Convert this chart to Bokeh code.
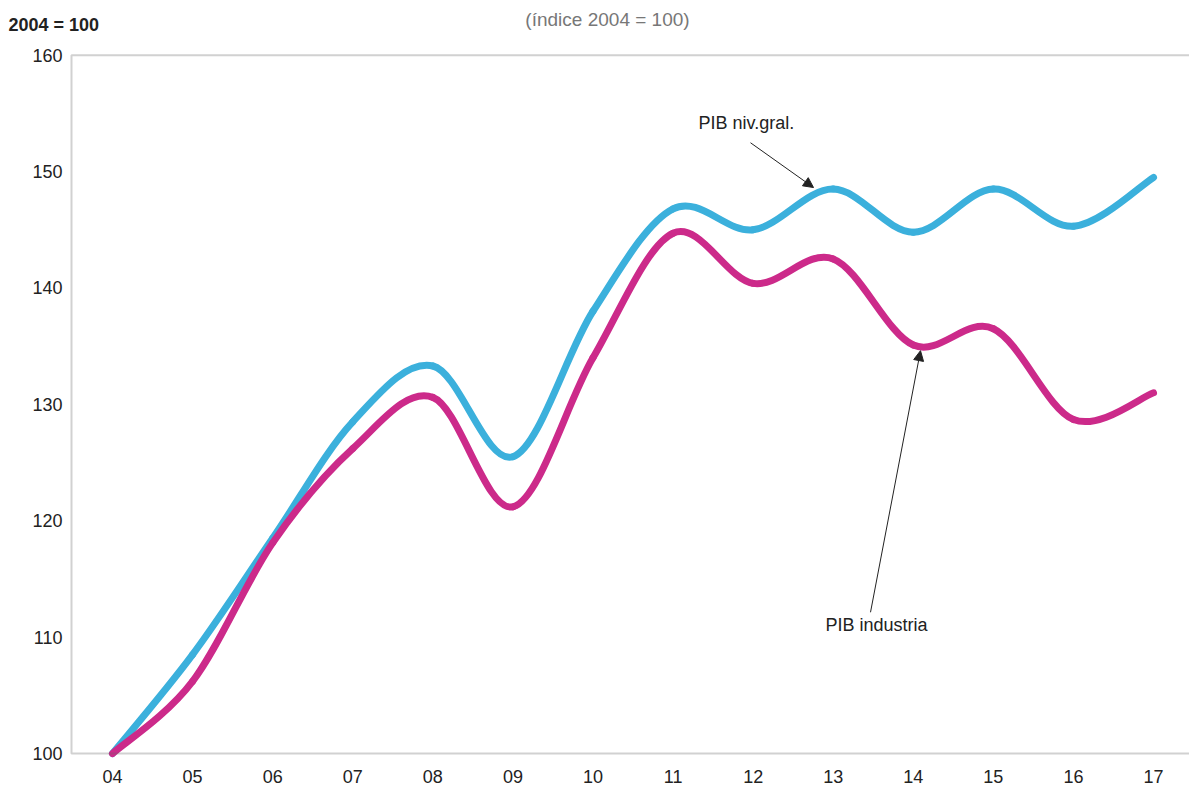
import numpy as np
from bokeh.plotting import figure
from bokeh.models import (ColumnDataSource, Range1d, FixedTicker, BoxAnnotation, Label,
                          Arrow, NormalHead)
from bokeh.core.properties import value
from bokeh.embed import file_html
from bokeh.resources import INLINE

# Annual index values (2004 = 100)
years = [4, 5, 6, 7, 8, 9, 10, 11, 12, 13, 14, 15, 16, 17]
year_labels = ["04", "05", "06", "07", "08", "09", "10", "11", "12", "13", "14", "15", "16", "17"]
pib_general = [100.0, 108.5, 118.5, 128.5, 133.3, 125.5, 138.0, 146.8, 145.0, 148.5, 144.8, 148.5, 145.3, 149.5]
pib_industria = [100.0, 106.2, 118.1, 126.2, 130.6, 121.2, 134.0, 144.7, 140.4, 142.5, 135.1, 136.5, 128.7, 131.0]
y_ticks = [100, 110, 120, 130, 140, 150, 160]
y_tick_labels = ["100", "110", "120", "130", "140", "150", "160"]

FONT = "Liberation Sans"
BLUE = "#3bb0dc"
MAGENTA = "#cc2a8a"
FRAME_GRAY = "#666666"
INK = "#222222"

W, H = 1189, 785
BOTTOM = 18                 # room for the year labels
X0_PX, X_STEP = 112, 80.08  # pixel of year 04 and pixels per year
Y0_PX, Y_STEP = 757, 11.7   # pixel of index 100 and pixels per index point


def dx(px):
    """Horizontal canvas pixel -> year coordinate."""
    return 4 + (px - X0_PX) / X_STEP


def dy(py):
    """Vertical canvas pixel (from top) -> index coordinate."""
    return 100 + (Y0_PX - py) / Y_STEP


def smooth_segments(xs, ys):
    """Cubic Bezier segments of a Catmull-Rom curve through the given points."""
    x = np.asarray(xs, dtype=float)
    y = np.asarray(ys, dtype=float)
    xp = np.concatenate([[x[0]], x, [x[-1]]])
    yp = np.concatenate([[y[0]], y, [y[-1]]])
    i = np.arange(len(x) - 1) + 1
    return dict(
        x0=xp[i], y0=yp[i], x1=xp[i + 1], y1=yp[i + 1],
        cx0=xp[i] + (xp[i + 1] - xp[i - 1]) / 6.0,
        cy0=yp[i] + (yp[i + 1] - yp[i - 1]) / 6.0,
        cx1=xp[i + 1] - (xp[i + 2] - xp[i]) / 6.0,
        cy1=yp[i + 1] - (yp[i + 2] - yp[i]) / 6.0,
    )


# The plotting area spans the whole page above the year labels, so the header
# texts and the index scale are drawn inside it.
p = figure(width=W, height=H, output_backend="svg", toolbar_location=None,
           x_range=Range1d(dx(0), dx(W)), y_range=Range1d(dy(H - BOTTOM), dy(0)),
           min_border_left=0, min_border_right=0, min_border_top=0, min_border_bottom=BOTTOM)
p.outline_line_color = None
p.xgrid.visible = False
p.ygrid.visible = False
p.yaxis.visible = False

xa = p.xaxis[0]
xa.axis_line_color = None
xa.major_tick_line_color = None
xa.minor_tick_line_color = None
xa.major_label_text_font = FONT
xa.major_label_text_font_size = "18px"
xa.major_label_text_color = INK
xa.major_label_standoff = 0
xa.ticker = FixedTicker(ticks=years)
xa.major_label_overrides = {yr: lab for yr, lab in zip(years, year_labels)}

# chart frame: left, top and bottom rules
p.add_layout(BoxAnnotation(left=dx(71), right=dx(W + 20), bottom=100, top=160,
                           fill_alpha=0, line_color=FRAME_GRAY, line_width=2))

# index scale
p.text(x=[dx(62)] * len(y_ticks), y=y_ticks, text=y_tick_labels,
       text_font=value(FONT), text_font_size="18px", text_color=INK,
       text_align="right", text_baseline="middle")

src_gen = ColumnDataSource(smooth_segments(years, pib_general))
src_ind = ColumnDataSource(smooth_segments(years, pib_industria))
p.bezier(x0="x0", y0="y0", x1="x1", y1="y1", cx0="cx0", cy0="cy0", cx1="cx1", cy1="cy1",
         source=src_gen, line_color=BLUE, line_width=7, line_cap="round")
p.bezier(x0="x0", y0="y0", x1="x1", y1="y1", cx0="cx0", cy0="cy0", cx1="cx1", cy1="cy1",
         source=src_ind, line_color=MAGENTA, line_width=7, line_cap="round")

# series callouts
head = dict(size=10, fill_color=INK, line_color=INK)
p.add_layout(Arrow(x_start=dx(750), y_start=dy(143), x_end=dx(813), y_end=dy(188),
                   line_color=INK, line_width=1, end=NormalHead(**head)))
p.add_layout(Arrow(x_start=dx(870), y_start=dy(615), x_end=dx(920), y_end=dy(352),
                   line_color=INK, line_width=1, end=NormalHead(**head)))
p.add_layout(Label(x=dx(698), y=dy(123.5), text="PIB niv.gral.", text_font=FONT,
                   text_font_size="18px", text_color=INK, text_baseline="alphabetic"))
p.add_layout(Label(x=dx(825), y=dy(628), text="PIB industria", text_font=FONT,
                   text_font_size="18px", text_color=INK, text_baseline="alphabetic"))

# header texts
p.add_layout(Label(x=dx(8), y=dy(24.5), text="2004 = 100", text_font=FONT,
                   text_font_size="18px", text_font_style="bold", text_color=INK,
                   text_baseline="alphabetic"))
p.add_layout(Label(x=dx(607), y=dy(19), text="(índice 2004 = 100)", text_font=FONT,
                   text_font_size="19px", text_color="#777777", text_align="center",
                   text_baseline="alphabetic"))

open("out.html", "w").write(file_html(p, INLINE))
